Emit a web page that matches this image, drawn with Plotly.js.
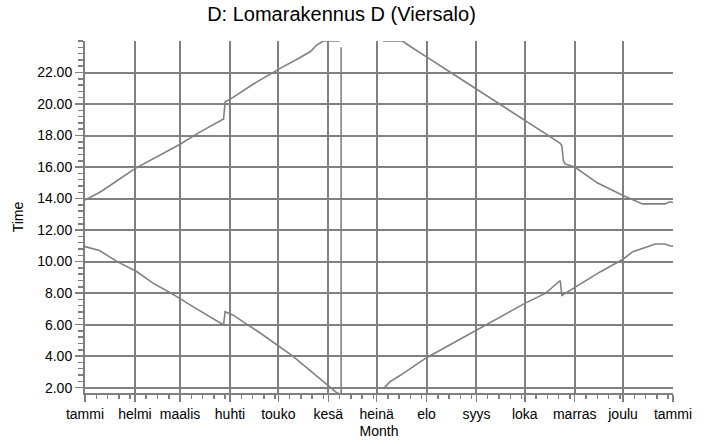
<!DOCTYPE html>
<html>
<head>
<meta charset="utf-8">
<script src="https://cdn.plot.ly/plotly-3.0.1.min.js"></script>
<style>html,body{margin:0;padding:0;background:#fff;}#chart{width:707px;height:444px;}</style>
</head>
<body>
<div id="chart"></div>
<script>
// Month axis (day of year) and Finnish month labels
const monthStarts = [0, 31, 59, 90, 120, 151, 181, 212, 243, 273, 304, 334, 365];
const monthLabels = ["tammi", "helmi", "maalis", "huhti", "touko", "kesä", "heinä", "elo", "syys", "loka", "marras", "joulu", "tammi"];
const yTicks = [2, 4, 6, 8, 10, 12, 14, 16, 18, 20, 22];

// Upper curve (evening time)
const upperDays = [0, 10, 31, 47, 59, 71, 86, 87, 90, 105, 120, 133, 140, 144, 148, 158, null,
  185, 197, 202, 208, 212, 228, 243, 258, 273, 287, 295, 296, 297, 298, 304, 318, 334, 340, 346, 360, 363, 365];
const upperTime = [13.9, 14.45, 15.9, 16.8, 17.45, 18.2, 19.05, 20.15, 20.3, 21.3, 22.2, 22.92, 23.33, 23.76, 24.0, 24.0, null,
  24.0, 24.0, 23.65, 23.23, 22.99, 21.94, 20.96, 19.99, 18.98, 18.04, 17.5, 17.35, 16.4, 16.2, 16.0, 15.0, 14.19, 13.92, 13.66, 13.66, 13.8, 13.75];

// Lower curve (morning time)
const lowerDays = [0, 9, 20, 32, 42, 55, 67, 84, 86, 87, 92, 101, 109, 129, 152, 156, 158, null,
  186, 189, 196, 202, 208, 212, 228, 243, 258, 273, 286, 292, 295, 296, 304, 320, 334, 340, 351, 354, 360, 363, 365];
const lowerTime = [10.95, 10.7, 10.0, 9.37, 8.65, 7.9, 7.14, 6.09, 5.98, 6.82, 6.6, 5.98, 5.45, 4.0, 2.0, 1.7, 1.62, null,
  2.0, 2.35, 2.8, 3.2, 3.65, 3.9, 4.8, 5.66, 6.5, 7.35, 8.0, 8.55, 8.8, 7.85, 8.35, 9.36, 10.15, 10.63, 11.0, 11.12, 11.12, 11.0, 10.98];

// Vertical transition line near midsummer
const jumpDays = [159, 159];
const jumpTime = [23.6, 1.62];

// minor ticks: weekly inside each month
const minorX = [];
for (let i = 0; i < monthStarts.length - 1; i++) {
  for (let d = 7; d <= 28; d += 7) {
    if (monthStarts[i] + d < monthStarts[i + 1] - 1) minorX.push(monthStarts[i] + d);
  }
}

const lineStyle = {color: '#808080', width: 1.6};
const traces = [
  {x: upperDays, y: upperTime, mode: 'lines', line: lineStyle, connectgaps: false, hoverinfo: 'skip'},
  {x: lowerDays, y: lowerTime, mode: 'lines', line: lineStyle, connectgaps: false, hoverinfo: 'skip'},
  {x: jumpDays, y: jumpTime, mode: 'lines', line: lineStyle, hoverinfo: 'skip'}
];

const font = {family: '"Liberation Sans", Arial, sans-serif', size: 14, color: '#000'};
const grid = '#808080';

const layout = {
  width: 707, height: 444,
  margin: {l: 85, r: 34, t: 41, b: 51},
  paper_bgcolor: '#fff', plot_bgcolor: '#fff',
  showlegend: false,
  font: font,
  title: {
    text: 'D: Lomarakennus D (Viersalo)',
    font: {family: font.family, size: 20, color: '#000'},
    xref: 'container', yref: 'container', x: 0.483, xanchor: 'center', y: 0.968, yanchor: 'middle'
  },
  xaxis: {
    range: [0, 365], tickmode: 'array', tickvals: monthStarts, ticktext: monthLabels,
    showgrid: true, gridcolor: grid, gridwidth: 2,
    ticks: 'outside', ticklen: 7, tickwidth: 1.5, tickcolor: grid,
    showline: true, linecolor: grid, linewidth: 2, zeroline: false,
    tickfont: font,
    minor: {tickmode: 'array', tickvals: minorX, ticks: 'outside', ticklen: 4, tickwidth: 1.5, tickcolor: grid, showgrid: false},
    title: {text: 'Month', font: font, standoff: 5},
    automargin: false, fixedrange: true
  },
  yaxis: {
    range: [1.66, 24], tickmode: 'array', tickvals: yTicks, tickformat: '.2f',
    showgrid: true, gridcolor: grid, gridwidth: 2,
    ticks: 'outside', ticklen: 8, tickwidth: 1.5, tickcolor: grid,
    showline: true, linecolor: grid, linewidth: 2, zeroline: false,
    tickfont: font,
    minor: {tick0: 0, dtick: 0.4, ticks: 'outside', ticklen: 5, tickwidth: 1.5, tickcolor: grid, showgrid: false},
    title: {text: 'Time', font: font, standoff: 10},
    automargin: false, fixedrange: true
  }
};

Plotly.newPlot('chart', traces, layout, {staticPlot: true, displayModeBar: false});
</script>
</body>
</html>
